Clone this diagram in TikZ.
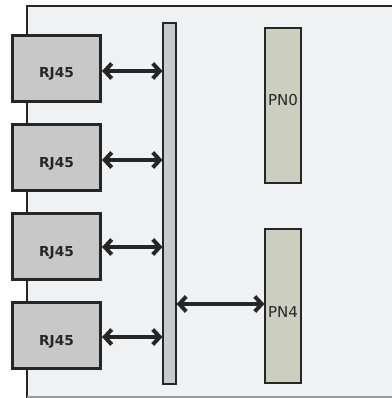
\documentclass[tikz,border=0pt]{standalone}
\usepackage{fontspec}
\setmainfont{DejaVu Sans}
\usetikzlibrary{arrows.meta}
\definecolor{boardbg}{HTML}{F0F1F3}
\definecolor{rjfill}{HTML}{C8C8C8}
\definecolor{busfill}{HTML}{C9CACC}
\definecolor{pnfill}{HTML}{CCCEC0}
\definecolor{edge}{HTML}{262626}
\tikzset{
  x=1pt,y=-1pt,
  rj/.style={draw=edge,line width=2.2pt,fill=rjfill,minimum width=88pt,minimum height=66pt,inner sep=0pt,outer sep=0pt,text height=19pt,text depth=0pt,font=\fontsize{13.7}{16}\selectfont\bfseries,text=edge},
  busbar/.style={draw=edge,line width=2pt,fill=busfill,minimum width=13pt,minimum height=360pt,inner sep=0pt,outer sep=0pt},
  pn/.style={draw=edge,line width=2pt,fill=pnfill,minimum width=36pt,minimum height=154pt,inner sep=0pt,outer sep=0pt},
  pnlabel/.style={font=\fontsize{15}{18}\selectfont,text=edge,inner sep=0pt},
  biarrow/.style={line width=4.6pt,draw=edge,line cap=butt,{Straight Barb[length=7pt,width=15pt,line width=4pt]}-{Straight Barb[length=7pt,width=15pt,line width=4pt]}},
}
\begin{document}
\begin{tikzpicture}
\useasboundingbox (0,0) rectangle (391,398);
\fill[white] (0,0) rectangle (391,398);
\fill[boardbg] (27,6) rectangle (392,397);
\draw[edge,line width=2.2pt] (27,398) -- (27,6) -- (392,6);
\draw[gray!80,line width=1.4pt] (27,396.8) -- (392,396.8);
\node[rj] (r1) at (56.5,68.5) {RJ45};
\node[rj] (r2) at (56.5,157.5) {RJ45};
\node[rj] (r3) at (56.5,246.5) {RJ45};
\node[rj] (r4) at (56.5,335.5) {RJ45};
\node[busbar] (bus) at (169,203.5) {};
\node[pn] (pn0) at (282.5,105.5) {};
\node[pn] (pn4) at (282.5,305.5) {};
\node[pnlabel] (l0) at (283,100) {PN0};
\node[pnlabel] (l4) at (283,312) {PN4};
\coordinate (a1) at (102,71);
\coordinate (a2) at (102,160);
\coordinate (a3) at (102,247);
\coordinate (a4) at (102,337);
\coordinate (a5) at (176.5,304);
\draw[biarrow] (a1) -- (a1 -| bus.west);
\draw[biarrow] (a2) -- (a2 -| bus.west);
\draw[biarrow] (a3) -- (a3 -| bus.west);
\draw[biarrow] (a4) -- (a4 -| bus.west);
\draw[biarrow] (a5) -- (a5 -| pn4.west);
\end{tikzpicture}
\end{document}
